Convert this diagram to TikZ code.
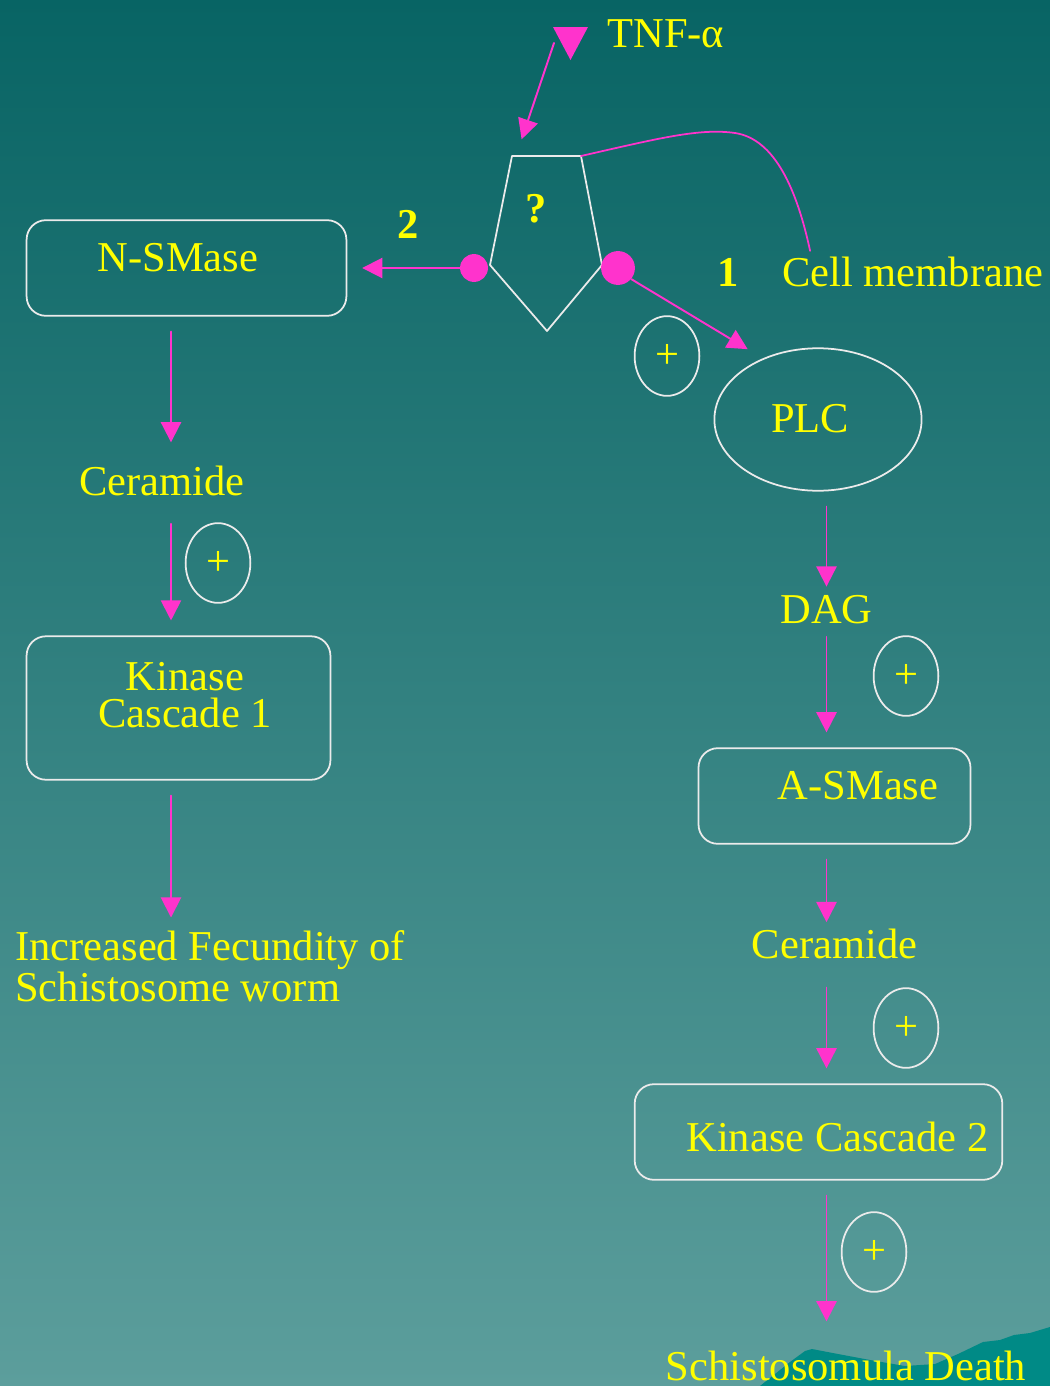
\documentclass[tikz,border=0pt]{standalone}
\usepackage{fontspec}
\setmainfont{Liberation Serif}
\usetikzlibrary{arrows.meta, shapes.geometric}
\tikzset{>={Triangle[length=11.5pt, width=11.5pt]}}
\tikzset{every text node part/.style={align=center}}
\definecolor{bgtop}{RGB}{8,100,100}
\definecolor{bgbot}{RGB}{92,158,156}
\definecolor{wave}{RGB}{0,138,134}
\definecolor{rose}{RGB}{255,51,204}
\definecolor{yel}{RGB}{255,255,0}
\definecolor{rim}{RGB}{235,235,235}
\newcommand{\px}{0.567pt}
\newcommand{\fsz}{\fontsize{24.2}{20.8}\selectfont}
\tikzset{
	box/.style={draw=rim, line width=1pt, rounded corners=11pt, outer sep=9pt},
	word/.style={text=yel, inner sep=0pt},
	plus/.style={draw=rim, line width=1pt, ellipse, minimum width=65*\px, minimum height=80*\px, inner sep=0pt, text=yel},
	link/.style={->, draw=rose, line width=1.1pt},
	dot/.style={circle, fill=rose, inner sep=0pt}
}

\begin{document}
\begin{tikzpicture}[x=0.02cm, y=-0.02cm, font=\fsz, line cap=round, line join=round]
	
	% Background
	\shade[top color=bgtop, bottom color=bgbot] (0,0) rectangle (1050,1386);
	\useasboundingbox (0,0) rectangle (1050,1386);
	\fill[wave] (760,1386) -- (790,1362) -- (805,1351) -- (812,1349) -- (838,1354) -- (870,1360) -- (905,1366) -- (935,1364) -- (958,1354) -- (983,1342) -- (1000,1340) -- (1014,1335) -- (1030,1333) -- (1050,1327) -- (1050,1386) -- cycle;
	
	% Receptor
	\coordinate (p1) at (512,156);
	\coordinate (p2) at (581,156);
	\coordinate (p3) at (602,265);
	\coordinate (p4) at (547,331);
	\coordinate (p5) at (490,265);
	\draw[draw=rim, line width=1pt] (p1) -- (p2) -- (p3) -- (p4) -- (p5) -- cycle;
	\node[word, anchor=base] (qm) at (536,222) {\bfseries ?};
	
	% TNF-alpha
	\fill[rose] (553,27) -- (588,27) -- (570.5,60) -- cycle;
	\coordinate (tnf) at (554,43);
	\coordinate (bind) at (516,156);
	\node[word, anchor=base west] (tnfT) at (607,48) {TNF-α};
	\draw[link, shorten >=10pt] (tnf) -- (bind);
	
	% Cell membrane
	\node[word, anchor=base west] (cm) at (782,286) {Cell membrane};
	\draw[draw=rose, line width=1pt] (p2) .. controls (660,138) and (700,128) .. (735,133) .. controls (775,139) and (797,190) .. ([xshift=16pt, yshift=3pt]cm.north west);
	
	% Binding sites
	\node[dot, minimum size=28*\px] (dotL) at (474,268) {};
	\node[dot, minimum size=34*\px] (dotR) at (618,268) {};
	\node[word, anchor=base] (two) at (408,238) {\bfseries 2};
	\node[word, anchor=base] (one) at (728,286) {\bfseries 1};
	
	% Pathway 2
	\coordinate (colL) at (171,0);
	\node[box, minimum width=321*\px, minimum height=96*\px] (nsmase) at (186.5,268) {};
	\node[word, anchor=base] (nsmaseT) at (178,271) {N-SMase};
	\draw[link] (dotL) -- (nsmase.east |- dotL);
	\node[word, anchor=base] (cer1) at (162,495) {Ceramide};
	\draw[link, shorten >=13pt] (nsmase.south -| colL) -- (cer1.north -| colL);
	\node[box, minimum width=305*\px, minimum height=144*\px] (kc1) at (178.5,708) {};
	\node[word] (kc1T) at (185,695) {Kinase\\Cascade 1};
	\draw[link, shorten <=16pt] (cer1.south -| colL) -- (kc1.north -| colL);
	\node[word, every text node part/.style={align=left}, anchor=south west] (fec) at (15,1002) {Increased Fecundity of\\Schistosome worm};
	\draw[link, shorten >=7.4pt] (kc1.south -| colL) -- (fec.north -| colL);
	
	% Pathway 1
	\coordinate (colR) at (826.5,0);
	\node[draw=rim, line width=1pt, ellipse, minimum width=208*\px, minimum height=143*\px, outer sep=9pt] (plc) at (818,419.5) {};
	\node[word, anchor=base] (plcT) at (810,432) {PLC};
	\draw[link] (dotR.-40) -- (plc.135);
	\node[word, anchor=base] (dag) at (826.5,623) {DAG};
	\draw[link, shorten >=4.5pt] (plc.south -| colR) -- (dag.north -| colR);
	\node[box, minimum width=273*\px, minimum height=96*\px] (asmase) at (834.5,796) {};
	\node[word, anchor=base] (asmaseT) at (858,799) {A-SMase};
	\draw[link, shorten <=7.4pt] (dag.south -| colR) -- (asmase.north -| colR);
	\node[word, anchor=base] (cer2) at (834.5,958) {Ceramide};
	\draw[link, shorten >=3.4pt] (asmase.south -| colR) -- (cer2.north -| colR);
	\node[box, minimum width=369*\px, minimum height=96*\px] (kc2) at (818.5,1132) {};
	\node[word, anchor=base] (kc2T) at (837.5,1151) {Kinase Cascade 2};
	\draw[link, shorten <=16.4pt] (cer2.south -| colR) -- (kc2.north -| colR);
	\node[word, anchor=base] (death) at (846,1380) {Schistosomula Death};
	\draw[link, shorten >=16.4pt] (kc2.south -| colR) -- (death.north -| colR);
	
	% Activation marks
	\foreach \n/\x/\y in {plus0/667/356, plus1/218/563, plus2/906/676, plus3/906/1028, plus4/874/1252}
		\node[plus] (\n) at (\x,\y) {+};
	
\end{tikzpicture}
\end{document}
